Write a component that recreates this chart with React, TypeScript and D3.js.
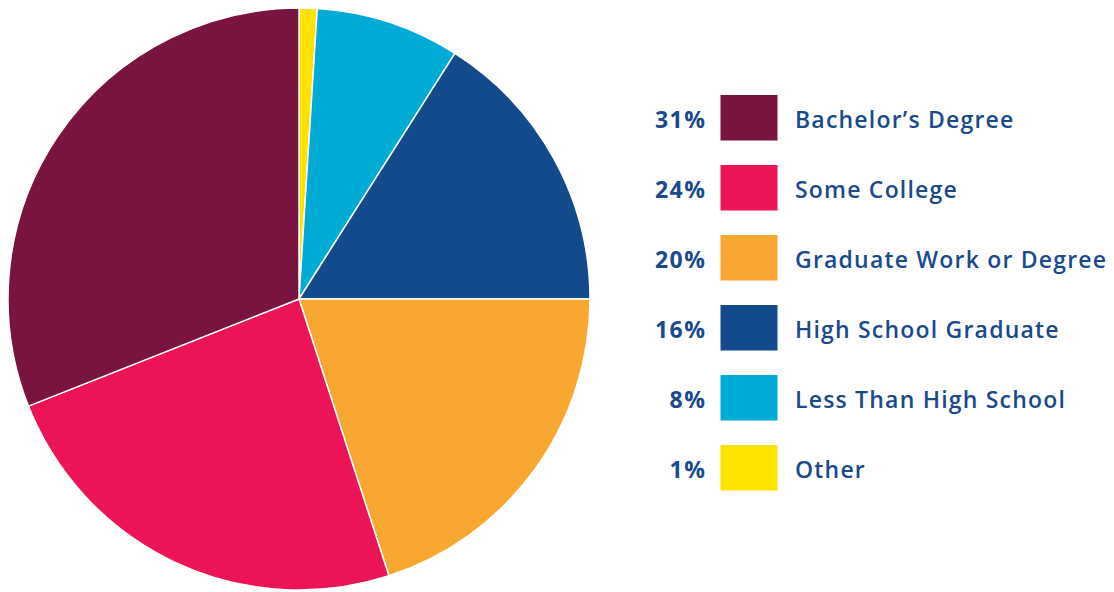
import React from "react";
import * as d3 from "d3";

const categories = ["Other", "Less Than High School", "High School Graduate", "Graduate Work or Degree", "Some College", "Bachelor’s Degree"];
const values = [1, 8, 16, 20, 24, 31];
const colors = ["#ffe200", "#00acd6", "#124a8c", "#f8a831", "#ec1457", "#79133f"];
const legendOrder = ["Bachelor’s Degree", "Some College", "Graduate Work or Degree", "High School Graduate", "Less Than High School", "Other"];

export default function App() {
  const W = 1114, H = 592;
  const cx = 299, cy = 299, r = 291;
  const pie = d3.pie<number>().sort(null).value((d) => d);
  const arcs = pie(values);
  const arc = d3.arc<d3.PieArcDatum<number>>().innerRadius(0).outerRadius(r);
  const y = d3.scaleBand<string>().domain(legendOrder).range([95 - 12.5, 95 - 12.5 + 70 * 6]).paddingInner(0);
  const textColor = "#1a4a8c";
  return (
    <svg width={W} height={H} style={{ position: "absolute", left: 0, top: 0, background: "#fff" }}>
      <g transform={`translate(${cx},${cy})`}>
        {arcs.map((a, i) => (
          <path key={i} d={arc(a) || ""} fill={colors[i]} stroke="#fff" strokeWidth={1.5} strokeLinejoin="round" />
        ))}
      </g>
      {legendOrder.map((name) => {
        const i = categories.indexOf(name);
        const top = (y(name) as number) + 12.5;
        const mid = top + 22.75;
        return (
          <g key={name}>
            <text x={706.5} y={mid} dy="0.45em" textAnchor="end" fontFamily="Open Sans" fontWeight={700} fontSize={23} letterSpacing={1.5} fill={textColor}>
              {values[i]}%
            </text>
            <rect x={720.5} y={top} width={57} height={45.5} fill={colors[i]} />
            <text x={795} y={mid} dy="0.45em" fontFamily="Open Sans" fontWeight={600} fontSize={23} letterSpacing={1.2} fill={textColor}>
              {name}
            </text>
          </g>
        );
      })}
    </svg>
  );
}
